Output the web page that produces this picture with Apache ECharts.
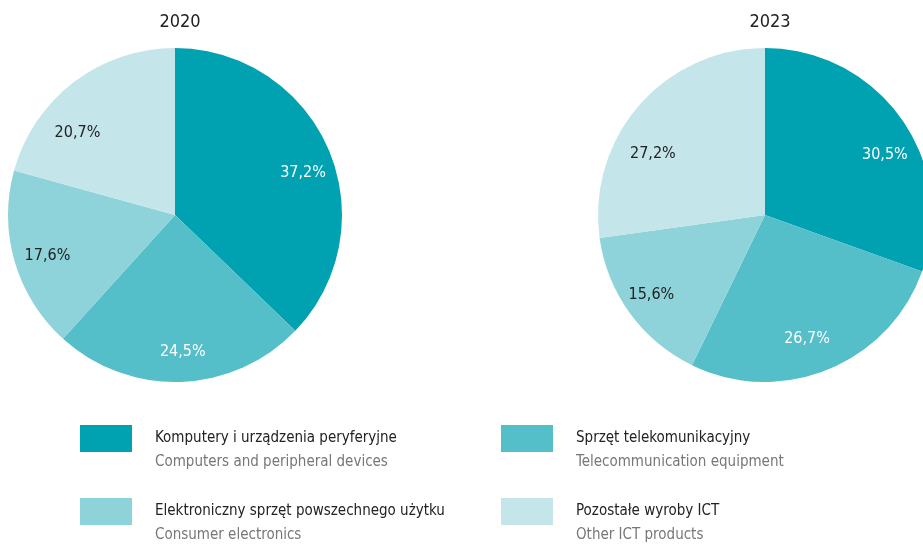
<!DOCTYPE html>
<html>
<head>
<meta charset="utf-8">
<script src="https://cdn.jsdelivr.net/npm/echarts@6/dist/echarts.min.js"></script>
<style>
  html, body { margin: 0; padding: 0; background: #fff; }
  #chart { width: 923px; height: 546px; }
</style>
</head>
<body>
<div id="chart"></div>
<script>
const years = ['2020', '2023'];
const namesPl = ['Komputery i urządzenia peryferyjne', 'Sprzęt telekomunikacyjny', 'Elektroniczny sprzęt powszechnego użytku', 'Pozostałe wyroby ICT'];
const namesEn = ['Computers and peripheral devices', 'Telecommunication equipment', 'Consumer electronics', 'Other ICT products'];
const values2020 = [37.2, 24.5, 17.6, 20.7];
const values2023 = [30.5, 26.7, 15.6, 27.2];

const colors = ['#00a1b1', '#54bec9', '#8fd3da', '#c4e5ea'];
const labelColors = ['#fff', '#fff', '#222', '#222'];
// small nudges so the labels sit where the original had them
const labelOffsets = [
  [[1, 12], [3, -1], [5, 2], [-14, 28]],
  [[7, 19], [-10, -4], [-2, -1], [-8, 29]]
];
const font = '"Liberation Sans Narrow", "DejaVu Sans Condensed", sans-serif';

const chart = echarts.init(document.getElementById('chart'));

function pieData(vals, k, withLabel) {
  return vals.map((v, i) => ({
    name: namesPl[i],
    value: v,
    itemStyle: withLabel ? { color: 'rgba(0,0,0,0)' } : { color: colors[i] },
    label: { color: labelColors[i], offset: labelOffsets[k][i] }
  }));
}

const centers = [[175, 215], [765, 215]];
const series = [];
[values2020, values2023].forEach((vals, k) => {
  // filled pie
  series.push({
    type: 'pie', center: centers[k], radius: 167, startAngle: 90,
    clockwise: true, silent: true, label: { show: false }, labelLine: { show: false },
    data: pieData(vals, k, false)
  });
  // transparent ring only to place the labels
  series.push({
    type: 'pie', center: centers[k], radius: [100, 170], startAngle: 90,
    clockwise: true, silent: true, z: 3,
    label: {
      show: true, position: 'inside', fontFamily: font, fontSize: 16,
      formatter: p => p.value.toFixed(1).replace('.', ',') + '%'
    },
    labelLine: { show: false },
    data: pieData(vals, k, true)
  });
});

// legend drawn as graphic: 2 x 2 grid
const legendPos = [[80, 425], [501, 425], [80, 498], [501, 498]];
const graphic = [];
namesPl.forEach((n, i) => {
  const [x, y] = legendPos[i];
  graphic.push({ type: 'rect', left: x, top: y, shape: { width: 52, height: 27 }, style: { fill: colors[i] } });
  graphic.push({ type: 'text', left: x + 75, top: y + 6, style: { text: n, font: '15px ' + font, fill: '#222' } });
  graphic.push({ type: 'text', left: x + 75, top: y + 30, style: { text: namesEn[i], font: '15px ' + font, fill: '#777' } });
});

chart.setOption({
  animation: false,
  title: years.map((y, k) => ({
    text: y, left: centers[k][0], top: 8, textAlign: 'center',
    textStyle: { fontFamily: font, fontSize: 18, fontWeight: 'normal', color: '#222' }
  })),
  series: series,
  graphic: graphic
});
</script>
</body>
</html>
